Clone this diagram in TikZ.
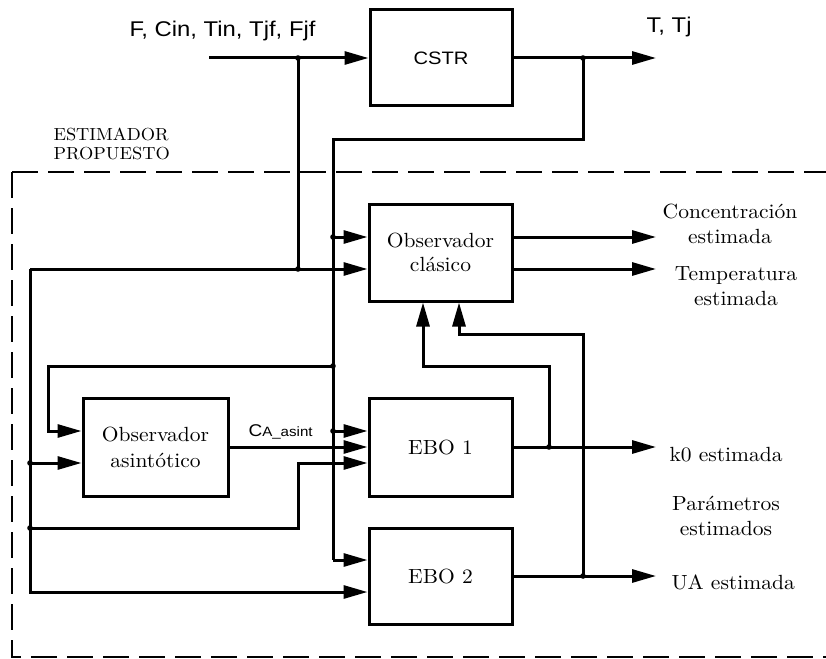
\documentclass[tikz,border=0pt]{standalone}
\usepackage{fontspec}
\setmainfont{lmroman10-regular.otf}[FakeStretch=1.05]
\newfontfamily\arialf[FakeStretch=1.12]{Liberation Sans}
\usetikzlibrary{arrows.meta}
\begin{document}
\begin{tikzpicture}[x=1pt,y=-1pt, line width=3pt,
  box/.style={draw, line width=3pt, inner sep=0pt, align=center, font=\fontsize{20.5}{24.5}\selectfont},
  arr/.style={-{Triangle[length=24pt,width=13pt]}},
  lbl/.style={inner sep=0pt, font=\fontsize{20.5}{25}\selectfont},
  sflbl/.style={inner sep=0pt, anchor=base west, font=\arialf\fontsize{21.3}{24}\selectfont},
  dashbox/.style={line width=1.7pt, dash pattern=on 26pt off 10pt},
  jdot/.style={fill=black}]
\useasboundingbox (0,0) rectangle (826,658);

% dashed boundary of the proposed estimator
\draw[dashbox] (12,172) -- (826,172);
\draw[dashbox] (12,172) -- (12,657) -- (826,657);

% blocks
\node[box, minimum width=142pt, minimum height=96pt, font=\arialf\fontsize{18}{20}\selectfont] (cstr) at (441,58) {CSTR};
\node[box, minimum width=143pt, minimum height=97pt] (obs) at (440.5,252.5) {Observador\\clásico};
\node[box, minimum width=145pt, minimum height=98pt, font=\fontsize{20.5}{26}\selectfont] (asint) at (155.5,447) {Observador\\asintótico};
\node[box, minimum width=143pt, minimum height=98pt] (ebo1) at (440.5,447) {EBO 1};
\node[box, minimum width=143pt, minimum height=96pt] (ebo2) at (440.5,576) {EBO 2};

% coordinates
\coordinate (in0) at (209,58);
\coordinate (jA) at (298,58);
\coordinate (jB) at (583,58);
\coordinate (oT) at (656,58);
\coordinate (cB1) at (583,139);
\coordinate (cB2) at (333,139);
\coordinate (jD1) at (333,237);
\coordinate (jD2) at (333,366);
\coordinate (jD3) at (333,431);
\coordinate (cB3) at (333,560);
\coordinate (cE1) at (48,366);
\coordinate (cE2) at (48,431);
\coordinate (jC) at (298,269);
\coordinate (cL1) at (30,269);
\coordinate (cL2) at (30,592);
\coordinate (jL1) at (30,463);
\coordinate (jL2) at (30,528);
\coordinate (cF1) at (298,528);
\coordinate (cF2) at (298,463);
\coordinate (oK) at (656,447);
\coordinate (jG) at (549,447);
\coordinate (cG1) at (549,366);
\coordinate (cG2) at (423,366);
\coordinate (oU) at (656,576);
\coordinate (jH) at (583,576);
\coordinate (cH1) at (583,334);
\coordinate (cH2) at (459,334);
\coordinate (oC) at (656,237);
\coordinate (oTe) at (656,269);

% connectors
\draw[arr] (in0) -- (cstr.west);
\draw[arr] (cstr.east) -- (oT);
\draw (jB) -- (cB1) -- (cB2) -- (cB3);
\draw[arr] (cB3) -- (cB3 -| ebo2.west);
\draw[arr] (jD1) -- (jD1 -| obs.west);
\draw[arr] (jD3) -- (jD3 -| ebo1.west);
\draw[arr] (jD2) -- (cE1) -- (cE2) -- (cE2 -| asint.west);
\draw (jA) -- (jC);
\draw[arr] (cL1) -- (cL1 -| obs.west);
\draw[arr] (cL1) -- (cL2) -- (cL2 -| ebo2.west);
\draw[arr] (jL1) -- (jL1 -| asint.west);
\draw[arr] (jL2) -- (cF1) -- (cF2) -- (cF2 -| ebo1.west);
\draw[arr] (asint.east) -- (ebo1.west);
\draw[arr] (ebo1.east) -- (oK);
\draw[arr] (jG) -- (cG1) -- (cG2) -- (cG2 |- obs.south);
\draw[arr] (ebo2.east) -- (oU);
\draw[arr] (jH) -- (cH1) -- (cH2) -- (cH2 |- obs.south);
\draw[arr] (obs.east |- oC) -- (oC);
\draw[arr] (obs.east |- oTe) -- (oTe);

% junction dots
\foreach \p in {jA,jB,jC,jD1,jD2,jD3,jL1,jL2,jG,jH}
  \fill[jdot] (\p) circle (2.8pt);

% labels
\node[sflbl] (lin) at (128,37) {F, Cin, Tin, Tjf, Fjf};
\node[sflbl] (lout) at (645,33) {T, Tj};
\node[inner sep=0pt, anchor=base west] (lca) at (247,436) {{\arialf\fontsize{17}{18}\selectfont C}{\arialf\fontsize{13.5}{14}\selectfont A\_asint}};
\node[inner sep=0pt, anchor=base west, font=\fontsize{17.5}{19}\selectfont] (lest) at (52,140) {\begin{tabular}[t]{@{}l@{}}ESTIMADOR\\PROPUESTO\end{tabular}};
\node[lbl, anchor=base] (lcon) at (730,218) {\begin{tabular}[t]{@{}c@{}}Concentración\\estimada\end{tabular}};
\node[lbl, anchor=base] (ltem) at (736,280) {\begin{tabular}[t]{@{}c@{}}Temperatura\\estimada\end{tabular}};
\node[lbl, anchor=base west] (lk0) at (668,461) {k0 estimada};
\node[lbl, anchor=base] (lpar) at (726,510) {\begin{tabular}[t]{@{}c@{}}Parámetros\\estimados\end{tabular}};
\node[lbl, anchor=base west] (lua) at (670,589) {UA estimada};
\end{tikzpicture}
\end{document}
